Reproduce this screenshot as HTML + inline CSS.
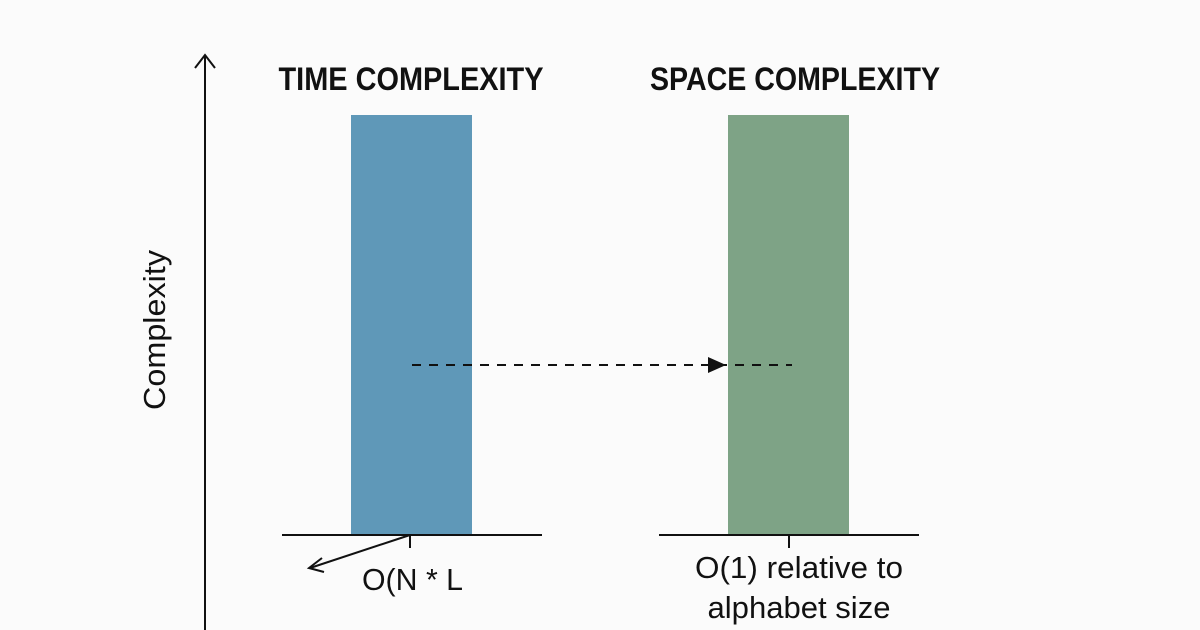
<!DOCTYPE html>
<html><head><meta charset="utf-8"><style>html,body{margin:0;padding:0;background:#fbfbfb}svg{display:block}</style></head>
<body>
<svg width="1200" height="630" viewBox="0 0 1200 630" xmlns="http://www.w3.org/2000/svg" font-family="'Liberation Sans Narrow','Liberation Sans',sans-serif">
<rect width="1200" height="630" fill="#fbfbfb"/>
<rect x="351" y="115" width="121" height="420" fill="#5f98b8"/>
<rect x="728" y="115" width="121" height="420" fill="#7ea386"/>
<g stroke="#111" stroke-width="2" fill="none">
<line x1="205" y1="55" x2="205" y2="630"/>
<polyline points="195,68 205,55 215,68"/>
<line x1="282" y1="535" x2="542" y2="535"/>
<line x1="659" y1="535" x2="919" y2="535"/>
<line x1="410" y1="535" x2="410" y2="548"/>
<line x1="789" y1="535" x2="789" y2="548"/>
<line x1="410" y1="535" x2="310" y2="568"/>
<polyline points="322,558 309,568 324,572"/>
<line x1="412" y1="365" x2="792" y2="365" stroke-dasharray="9,8"/>
</g>
<polygon points="708,357 726,365 708,373" fill="#111"/>
<text x="411" y="90" text-anchor="middle" font-weight="bold" font-size="32" textLength="265" lengthAdjust="spacingAndGlyphs" fill="#111">TIME COMPLEXITY</text>
<text x="795" y="90" text-anchor="middle" font-weight="bold" font-size="32" textLength="290" lengthAdjust="spacingAndGlyphs" fill="#111">SPACE COMPLEXITY</text>
<text x="362" y="590" font-size="31" textLength="101" lengthAdjust="spacingAndGlyphs" fill="#111">O(N * L</text>
<text x="799" y="578" text-anchor="middle" font-size="31" textLength="208" lengthAdjust="spacingAndGlyphs" fill="#111">O(1) relative to</text>
<text x="799" y="618" text-anchor="middle" font-size="31" textLength="183" lengthAdjust="spacingAndGlyphs" fill="#111">alphabet size</text>
<text transform="translate(165,330) rotate(-90)" text-anchor="middle" font-size="31" textLength="160" lengthAdjust="spacingAndGlyphs" fill="#111">Complexity</text>
</svg>
</body></html>
